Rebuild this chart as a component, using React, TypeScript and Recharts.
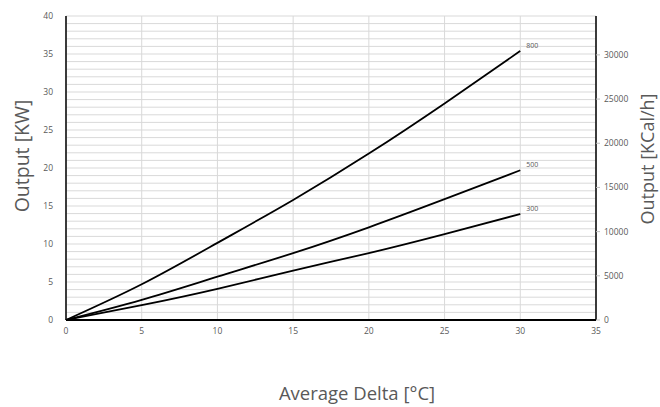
import React from "react";
import { LineChart, Line, XAxis, YAxis, CartesianGrid } from "recharts";

const deltaT = [0, 5, 10, 15, 20, 25, 30];
const series300 = [0, 1.95, 4.1, 6.5, 8.8, 11.3, 13.95];
const series500 = [0, 2.65, 5.7, 8.8, 12.2, 15.9, 19.7];
const series800 = [0, 4.7, 10.15, 15.8, 21.9, 28.5, 35.4];
const seriesNames = ["300", "500", "800"];
const xTicks = [0, 5, 10, 15, 20, 25, 30, 35];
const kwGridTicks = Array.from({ length: 41 }, (_, i) => i);
const kwLabelStep = 5;
const kcalTicks = [0, 5000, 10000, 15000, 20000, 25000, 30000];
const KCAL_PER_KW = 860;
const KW_MAX = 40;

const data = deltaT.map((t, i) => ({
  t,
  s300: series300[i],
  s500: series500[i],
  s800: series800[i],
}));

const FONT = "'Open Sans', 'DejaVu Sans', sans-serif";
const TXT = "#595959";

const endLabel = (name: string) => (props: any) => {
  const { x, y, index } = props;
  if (index !== data.length - 1) return null;
  return (
    <text x={x + 6} y={y - 3} fontSize={7} fill={TXT} fontFamily={FONT}>
      {name}
    </text>
  );
};

const axisTitle =
  (text: string, dxFromLeft: number, dyFromMid: number, rotate: boolean, size: number, horizontalShift = 0) =>
  (props: any) => {
    const vb = props.viewBox || {};
    const cx = rotate ? vb.x + dxFromLeft : vb.x + vb.width / 2 + horizontalShift;
    const cy = rotate ? vb.y + vb.height / 2 + dyFromMid : vb.y + dyFromMid;
    return (
      <text
        x={cx}
        y={cy}
        fill={TXT}
        fontSize={size}
        fontFamily={FONT}
        textAnchor="middle"
        dominantBaseline="central"
        transform={rotate ? `rotate(-90, ${cx}, ${cy})` : undefined}
      >
        {text}
      </text>
    );
  };

export default function App() {
  return (
    <div style={{ position: "absolute", left: 0, top: 0, width: 660, height: 407, background: "#fff" }}>
      <LineChart
        width={660}
        height={407}
        data={data}
        margin={{ top: 16, right: 0, bottom: 0, left: 0 }}
      >
        <CartesianGrid yAxisId="left" stroke="#d9d9d9" strokeWidth={1} />
        <XAxis
          dataKey="t"
          type="number"
          domain={[0, 35]}
          ticks={xTicks}
          height={87}
          tickLine={false}
          axisLine={{ stroke: "#000", strokeWidth: 2 }}
          tick={{ fontSize: 8.5, fill: TXT, fontFamily: FONT }}
          tickMargin={2}
          label={{ content: axisTitle("Average Delta [°C]", 0, 72, false, 18.5, 26) }}
        />
        <YAxis
          yAxisId="left"
          type="number"
          domain={[0, KW_MAX]}
          ticks={kwGridTicks}
          interval={0}
          tickFormatter={(v: number) => (v % kwLabelStep === 0 ? String(v) : "")}
          width={66}
          tickLine={false}
          axisLine={{ stroke: "#000", strokeWidth: 1.5 }}
          tick={{ fontSize: 8.5, fill: TXT, fontFamily: FONT }}
          tickMargin={7}
          label={{ content: axisTitle("Output [KW]", 21, -12, true, 19.5) }}
        />
        <YAxis
          yAxisId="right"
          orientation="right"
          type="number"
          domain={[0, KW_MAX * KCAL_PER_KW]}
          allowDataOverflow
          ticks={kcalTicks}
          interval={0}
          width={64}
          tickSize={4}
          tickLine={{ stroke: "#bfbfbf" }}
          axisLine={{ stroke: "#000", strokeWidth: 1.5 }}
          tick={{ fontSize: 8.5, fill: TXT, fontFamily: FONT }}
          tickMargin={4}
          label={{ content: axisTitle("Output [KCal/h]", 51, -9, true, 18) }}
        />
        <Line
          yAxisId="left"
          dataKey="s800"
          type="natural"
          stroke="#000"
          strokeWidth={1.8}
          dot={false}
          isAnimationActive={false}
          label={endLabel(seriesNames[2])}
        />
        <Line
          yAxisId="left"
          dataKey="s500"
          type="natural"
          stroke="#000"
          strokeWidth={1.8}
          dot={false}
          isAnimationActive={false}
          label={endLabel(seriesNames[1])}
        />
        <Line
          yAxisId="left"
          dataKey="s300"
          type="natural"
          stroke="#000"
          strokeWidth={1.8}
          dot={false}
          isAnimationActive={false}
          label={endLabel(seriesNames[0])}
        />
      </LineChart>
    </div>
  );
}
